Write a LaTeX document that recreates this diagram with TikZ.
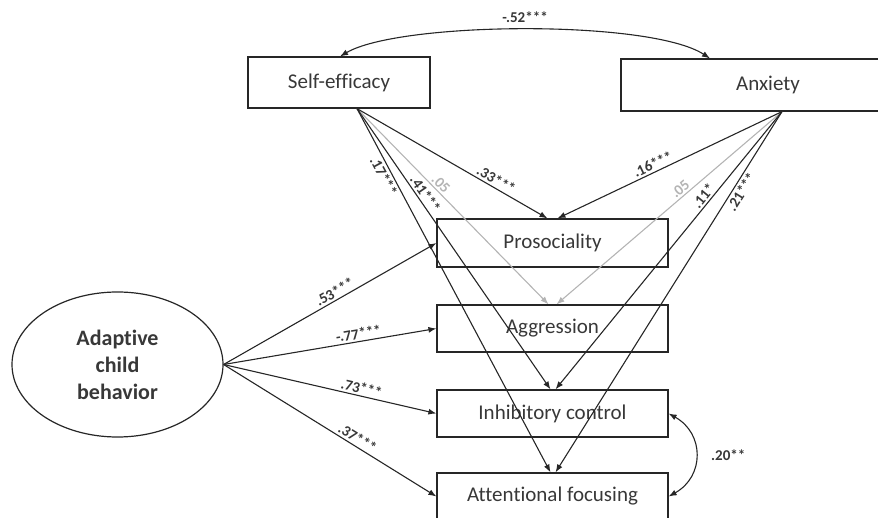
\documentclass[tikz,border=0pt]{standalone}
\usepackage{fontspec}
\setmainfont{Carlito}[Ligatures=NoCommon]
\usetikzlibrary{arrows.meta,calc,shapes.geometric}
\definecolor{linec}{HTML}{262626}
\definecolor{grayc}{HTML}{B4B4B4}
\definecolor{txt}{HTML}{383838}

\begin{document}
\begin{tikzpicture}[x=1pt,y=1pt,>={Latex[length=8pt,width=6pt]},
  box/.style={rectangle,draw=linec,line width=1.2pt,text=txt,inner sep=0pt,
    font=\fontsize{21}{25}\selectfont,minimum width=231,minimum height=47},
  arr/.style={->,draw=linec,line width=1.1pt},
  grayarr/.style={->,draw=grayc,line width=1.1pt},
  coef/.style={text=txt,inner sep=1pt,font=\bfseries\fontsize{15}{18}\selectfont}]
  \useasboundingbox (0,0) rectangle (878,517);
  \clip (0,0) rectangle (878,517);
  \draw(339,434.5) node[box,minimum width=182,minimum height=51] (SE) {Self-efficacy};
  \draw(768,432) node[box,minimum width=294,minimum height=52] (AX) {Anxiety};
  \draw(552.5,274) node[box,minimum height=48] (PR) {Prosociality};
  \draw(552.5,188.5) node[box] (AG) {Aggression};
  \draw(552.5,103.5) node[box] (IC) {Inhibitory control};
  \draw(552.5,20.5) node[box] (AF) {Attentional focusing};
  \draw(117.5,152.5) node[ellipse,draw=linec,line width=1.2pt,text=txt,align=center,
    minimum width=211,minimum height=145,inner sep=0pt,
    font=\bfseries\fontsize{22}{27}\selectfont] (CB) {Adaptive\\child\\behavior};
  \coordinate (se) at ($(SE.south)+(18,0)$);
  \coordinate (ax) at ($(AX.south)+(14,0)$);
  \draw[grayarr] (se) -- node[coef,text=grayc,sloped,above=1pt,pos=.41] {.05} ($(AG.north)+(-4,0)$);
  \draw[grayarr] (ax) -- node[coef,text=grayc,sloped,above=1pt,pos=.43] {.05} ($(AG.north)+(4,0)$);
  \draw[arr] (se) -- node[coef,sloped,above=1pt,pos=.71] {.33***} ($(PR.north)+(-5,0)$);
  \draw[arr] (se) -- node[coef,sloped,above=1pt,pos=.32] {.41***} ($(IC.north)+(-2,0)$);
  \draw[arr] (se) -- node[coef,sloped,below=1pt,pos=.175] {.17***} ($(AF.north)+(-2,0)$);
  \draw[arr] (ax) -- node[coef,sloped,above=1pt,pos=.56] {.16***} ($(PR.north)+(5,0)$);
  \draw[arr] (ax) -- node[coef,sloped,above=1pt,pos=.32] {.11*} ($(IC.north)+(3,0)$);
  \draw[arr] (ax) -- node[coef,sloped,below=1pt,pos=.21] {.21***} ($(AF.north)+(3,0)$);
  \draw[arr] (CB.east) -- node[coef,sloped,above=1pt,pos=.54] {.53***} (PR.west);
  \draw[arr] (CB.east) -- node[coef,sloped,above=1pt,pos=.64] {-.77***} (AG.west);
  \draw[arr] (CB.east) -- node[coef,sloped,above=1pt,pos=.64] {.73***} (IC.west);
  \draw[arr] (CB.east) -- node[coef,sloped,above=1pt,pos=.61] {.37***} (AF.west);
  \draw[arr,<->] ($(SE.north)+(1,0)$) .. controls +(60,35) and +(-60,39) ..
    node[coef,above=5pt,pos=.5] {-.52***} ($(AX.north)+(-58,0)$);
  \draw[arr,<->] (IC.east) .. controls +(36,-20) and +(36,20) ..
    node[coef,right=14pt,pos=.5] {.20**} (AF.east);
\end{tikzpicture}
\end{document}
